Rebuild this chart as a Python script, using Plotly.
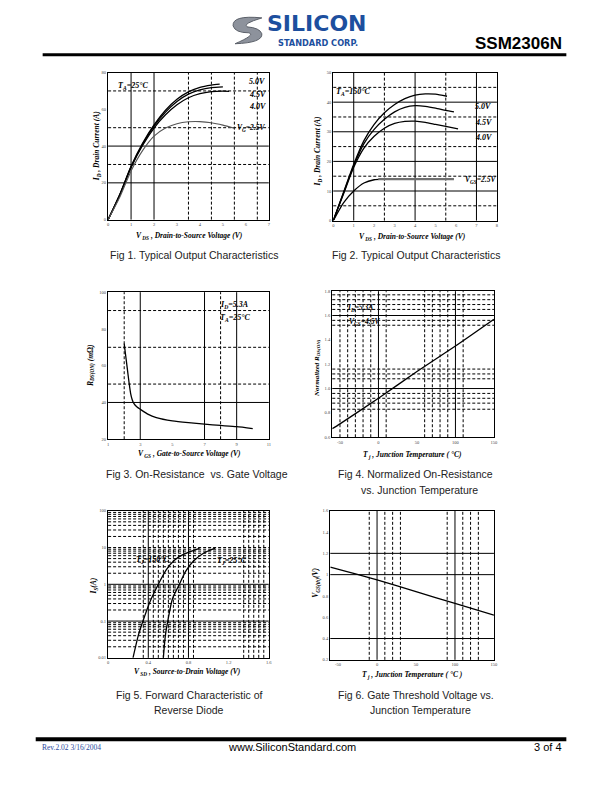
import math
import plotly.graph_objects as go

W, H = 612, 792


def px(x):
    return x / W


def py(y):
    return 1 - y / H


# ---------------- data ----------------
# Fig 1: Typical output characteristics, TA = 25 C
f1_vds_50 = [0, 0.5, 1.0, 1.5, 2.0, 2.5, 3.0, 3.5, 4.0, 4.5, 4.86]
f1_id_50 = [0, 13.5, 29.0, 41.5, 51.5, 59.5, 65.5, 69.5, 72.0, 73.2, 73.7]
f1_vds_45 = [0, 0.5, 1.0, 1.5, 2.0, 2.5, 3.0, 3.5, 4.0, 4.5, 5.0]
f1_id_45 = [0, 13.3, 28.7, 41.0, 50.8, 58.5, 64.3, 68.3, 70.6, 71.8, 72.2]
f1_vds_40 = [0, 0.5, 1.0, 1.5, 2.0, 2.5, 3.0, 3.5, 4.0, 4.5, 5.0, 5.27]
f1_id_40 = [0, 13.0, 28.3, 40.3, 49.8, 57.0, 62.5, 66.3, 68.5, 69.6, 69.9, 69.8]
f1_vds_25 = [0, 0.5, 1.0, 1.5, 2.0, 2.5, 3.0, 3.5, 4.0, 4.5, 5.0, 5.5]
f1_id_25 = [0, 12.0, 26.5, 37.5, 45.4, 49.8, 52.2, 53.2, 53.3, 52.7, 51.4, 49.7]

# Fig 2: Typical output characteristics, TA = 150 C
f2_vds_50 = [0, 0.5, 1.0, 1.5, 2.0, 2.5, 3.0, 3.5, 4.0, 4.5, 5.0, 5.56]
f2_id_50 = [0, 9.5, 19.0, 27.0, 32.5, 36.4, 39.2, 41.2, 42.4, 42.8, 42.7, 42.0]
f2_vds_45 = [0, 0.5, 1.0, 1.5, 2.0, 2.5, 3.0, 3.5, 4.0, 4.5, 5.0, 5.5, 5.9]
f2_id_45 = [0, 9.3, 18.5, 26.0, 30.8, 34.2, 36.7, 38.2, 38.8, 38.6, 38.0, 37.2, 36.7]
f2_vds_40 = [0, 0.5, 1.0, 1.5, 2.0, 2.5, 3.0, 3.5, 4.0, 4.5, 5.0, 5.5, 6.1]
f2_id_40 = [0, 9.0, 18.0, 24.5, 28.5, 31.2, 32.8, 33.5, 33.6, 33.2, 32.5, 31.8, 31.0]
f2_vds_25_rise = [0, 0.5, 1.0, 1.5, 2.0, 2.4]
f2_id_25_rise = [0, 6.0, 10.0, 12.7, 13.8, 14.0]
f2_vds_25_flat = [2.2, 3.0, 4.0, 5.0, 5.9]
f2_id_25_flat = [14.0, 14.0, 14.0, 14.0, 14.0]

# Fig 3: On-resistance vs gate voltage
f3_vgs = [2.0, 2.1, 2.2, 2.3, 2.4, 2.5, 2.6, 2.8, 3.0, 3.5, 4.0, 5.0, 6.0, 7.0, 8.0, 9.0, 10.0]
f3_rds = [72, 65, 58, 51, 45, 41.5, 39.5, 37.5, 36.3, 33.5, 31.8, 30.0, 29.0, 28.2, 27.5, 26.8, 25.8]

# Fig 4: Normalized on-resistance vs junction temperature
f4_tj = [-60, -50, 0, 50, 100, 150]
f4_rn = [0.67, 0.71, 0.92, 1.14, 1.35, 1.57]

# Fig 5: Forward characteristic of reverse diode
f5_vsd_150 = [0.248, 0.30, 0.347, 0.42, 0.50, 0.58, 0.66, 0.75, 0.91]
f5_is_150 = [0.01, 0.04, 0.1, 0.35, 1.0, 2.5, 4.5, 6.5, 9.5]
f5_vsd_25 = [0.55, 0.57, 0.594, 0.64, 0.71, 0.77, 0.85, 0.95, 1.066]
f5_is_25 = [0.01, 0.04, 0.1, 0.4, 1.0, 2.2, 4.3, 7.0, 9.6]

# Fig 6: Gate threshold voltage vs junction temperature
f6_tj = [-60, 0, 50, 100, 150]
f6_vth = [1.07, 0.95, 0.84, 0.73, 0.62]

# axis ranges and tick labels
ax_x_range = {1: [0, 7], 2: [0, 8], 3: [1, 11], 4: [-60, 150], 5: [0, 1.6], 6: [-60, 150]}
ax_y_range = {1: [0, 80], 2: [0, 50], 3: [20, 100], 4: [0.6, 1.8], 5: [-2, 2], 6: [0.2, 1.6]}
x_ticks = {1: [0, 1, 2, 3, 4, 5, 6, 7], 2: [0, 1, 2, 3, 4, 5, 6, 7, 8], 3: [1, 3, 5, 7, 9, 11],
           4: [-50, 0, 50, 100, 150], 5: [0, 0.4, 0.8, 1.2, 1.6], 6: [-50, 0, 50, 100, 150]}
y_ticks = {1: [0, 20, 40, 60, 80], 2: [0, 10, 20, 30, 40, 50], 3: [20, 40, 60, 80, 100],
           4: [0.6, 0.8, 1.0, 1.2, 1.4, 1.6, 1.8], 5: [0.01, 0.1, 1, 10, 100],
           6: [0.2, 0.4, 0.6, 0.8, 1.0, 1.2, 1.4, 1.6]}
x_ticktext = {4: ["-50", "0", "50", "100", "150"], 5: ["0", "0.4", "0.8", "1.2", "1.6"],
              6: ["-50", "0", "50", "100", "150"]}
y_ticktext = {4: ["0.6", "0.8", "1.0", "1.2", "1.4", "1.6", "1.8"], 5: ["0.01", "0.1", "1", "10", "100"],
              6: ["0.2", "0.4", "0.6", "0.8", "1", "1.2", "1.4", "1.6"]}

# grid lines (value lists)
grid_h_solid = {1: [20, 40], 2: [10, 20, 30, 40], 3: [40], 4: [1.0, 1.6], 5: [0.1, 1], 6: [0.4, 1.0, 1.2]}
grid_h_dash = {
    1: [30, 50, 70],
    2: [5, 15, 25, 35, 45],
    3: [50, 70, 90],
    4: [0.83, 0.88, 0.92, 0.96, 1.08, 1.12, 1.16, 1.52, 1.56, 1.65, 1.69, 1.73, 1.77],
    5: [m * d for d in (0.01, 0.1, 1, 10) for m in (2, 3, 4, 5, 6, 7, 8, 9)] + [10],
    6: [],
}
grid_v_solid = {1: [1, 2], 2: [1, 4, 7], 3: [3, 7, 9], 4: [0, 100], 5: [0.4, 0.8], 6: [0, 100]}
grid_v_dash = {
    1: [3.5, 4.5, 5.5, 6.5],
    2: [2.5, 5.5],
    3: [2, 8],
    4: [-50, -40, -30, -20, -10, 10, 60, 70, 80, 90, 110],
    5: [0.35, 0.45, 0.5, 0.55, 0.6, 0.65, 0.7, 0.75, 0.85, 1.35, 1.4, 1.45, 1.5, 1.55],
    6: [-10, 10, 20, 30, 90, 110, 120, 130],
}

# plot-area boxes on the page (pixels: left, right, top, bottom)
boxes = {1: (108, 270, 71, 219), 2: (335, 500, 71, 220), 3: (108, 270, 292, 440),
         4: (334, 497, 291, 438), 5: (108, 270, 512, 660), 6: (332, 497, 512, 662)}

SERIF = "Liberation Serif"
SANS = "Liberation Sans"

fig = go.Figure()


def ax_names(n):
    return ("x" if n == 1 else f"x{n}"), ("y" if n == 1 else f"y{n}")


def add_line(n, x, y, color="black", width=1.3):
    xa, ya = ax_names(n)
    fig.add_trace(go.Scatter(x=x, y=y, xaxis=xa, yaxis=ya, mode="lines",
                             line=dict(color=color, width=width, shape="spline", smoothing=0.6),
                             showlegend=False, hoverinfo="skip"))


add_line(1, f1_vds_50, f1_id_50)
add_line(1, f1_vds_45, f1_id_45)
add_line(1, f1_vds_40, f1_id_40)
add_line(1, f1_vds_25, f1_id_25, color="#555555", width=1.1)
add_line(2, f2_vds_50, f2_id_50)
add_line(2, f2_vds_45, f2_id_45)
add_line(2, f2_vds_40, f2_id_40)
add_line(2, f2_vds_25_rise, f2_id_25_rise)
add_line(2, f2_vds_25_flat, f2_id_25_flat, color="#707070", width=2.4)
add_line(3, f3_vgs, f3_rds)
add_line(4, f4_tj, f4_rn)
add_line(5, f5_vsd_150, f5_is_150)
add_line(5, f5_vsd_25, f5_is_25)
add_line(6, f6_tj, f6_vth)

layout = dict(width=W, height=H, margin=dict(l=0, r=0, t=0, b=0),
              paper_bgcolor="white", plot_bgcolor="white", showlegend=False)

for n in range(1, 7):
    l, r, t, b = boxes[n]
    xa, ya = ax_names(n)
    xkey = "xaxis" if n == 1 else f"xaxis{n}"
    ykey = "yaxis" if n == 1 else f"yaxis{n}"
    xd = dict(domain=[px(l), px(r)], anchor=ya, range=ax_x_range[n], showgrid=False, zeroline=False,
              showline=True, linecolor="black", linewidth=1.3, mirror=True, ticks="",
              tickvals=x_ticks[n], tickfont=dict(family=SERIF, size=4.5, color="#444"))
    if n in x_ticktext:
        xd["ticktext"] = x_ticktext[n]
    yd = dict(domain=[py(b), py(t)], anchor=xa, range=ax_y_range[n], showgrid=False, zeroline=False,
              showline=True, linecolor="black", linewidth=1.3, mirror=True, ticks="",
              tickvals=y_ticks[n], tickfont=dict(family=SERIF, size=4.5, color="#444"))
    if n == 5:
        yd["type"] = "log"
    if n in y_ticktext:
        yd["ticktext"] = y_ticktext[n]
    layout[xkey] = xd
    layout[ykey] = yd

shapes = []
for n in range(1, 7):
    xa, ya = ax_names(n)
    for v in grid_h_solid[n]:
        shapes.append(dict(type="line", xref=f"{xa} domain", yref=ya, x0=0, x1=1, y0=v, y1=v,
                           line=dict(color="black", width=1), layer="below"))
    for v in grid_h_dash[n]:
        shapes.append(dict(type="line", xref=f"{xa} domain", yref=ya, x0=0, x1=1, y0=v, y1=v,
                           line=dict(color="black", width=1, dash="3px,2px"), layer="below"))
    for v in grid_v_solid[n]:
        shapes.append(dict(type="line", xref=xa, yref=f"{ya} domain", x0=v, x1=v, y0=0, y1=1,
                           line=dict(color="black", width=1), layer="below"))
    for v in grid_v_dash[n]:
        shapes.append(dict(type="line", xref=xa, yref=f"{ya} domain", x0=v, x1=v, y0=0, y1=1,
                           line=dict(color="black", width=1, dash="3px,2px"), layer="below"))

# header / footer rules
shapes.append(dict(type="line", xref="paper", yref="paper", x0=px(42), x1=px(570), y0=py(53), y1=py(53),
                   line=dict(color="black", width=3)))
shapes.append(dict(type="line", xref="paper", yref="paper", x0=px(35), x1=px(570), y0=py(742), y1=py(742),
                   line=dict(color="black", width=4)))


# logo swoosh
def path_from(cmds):
    out = []
    for c in cmds:
        if isinstance(c, str):
            out.append(c)
        else:
            out.append(f"{px(c[0]):.5f},{py(c[1]):.5f}")
    return " ".join(out)


swoosh = path_from(["M", (263, 16), "Q", (233, 13), (234, 24), "Q", (236, 31), (250, 31),
                    "Q", (257, 33), (236, 42), "Q", (264, 41), (263, 32), "Q", (261, 26), (248, 25),
                    "Q", (243, 22), (263, 16), "Z"])
shapes.append(dict(type="path", xref="paper", yref="paper", path=swoosh,
                   fillcolor="#8d929c", line=dict(color="#5b6069", width=1)))
layout["shapes"] = shapes

ann = []


def text(x, y, s, size=8, family=SERIF, color="black", xanchor="center", yanchor="middle",
         xref="paper", yref="paper", angle=0):
    ann.append(dict(x=x, y=y, xref=xref, yref=yref, text=s, showarrow=False, xanchor=xanchor,
                    yanchor=yanchor, textangle=angle, borderpad=0,
                    font=dict(family=family, size=size, color=color)))


def dtext(n, x, y, s, size=8, xanchor="left"):
    xa, ya = ax_names(n)
    text(x, y, s, size=size, xref=xa, yref=ya, xanchor=xanchor)


# chart labels (data coordinates)
dtext(1, 0.4, 72.5, "<b><i>T<sub>A</sub>=25°C</i></b>")
dtext(1, 6.1, 75, "<b><i>5.0V</i></b>")
dtext(1, 6.1, 68, "<b><i>4.5V</i></b>")
dtext(1, 6.1, 61.5, "<b><i>4.0V</i></b>")
dtext(1, 5.55, 50, "<b><i>V<sub>G</sub>=2.5V</i></b>", size=7.5)

dtext(2, 0.1, 43.5, "<b><i>T<sub>A</sub>=150°C</i></b>")
dtext(2, 6.9, 38.4, "<b><i>5.0V</i></b>")
dtext(2, 6.9, 33, "<b><i>4.5V</i></b>")
dtext(2, 6.9, 28.2, "<b><i>4.0V</i></b>")
dtext(2, 6.4, 13.8, "<b><i>V<sub>GS</sub>=2.5V</i></b>", size=7.5)

dtext(3, 7.9, 93, "<b><i>I<sub>D</sub>=5.3A</i></b>")
dtext(3, 7.9, 85.8, "<b><i>T<sub>A</sub>=25°C</i></b>")

dtext(4, -42, 1.665, "<b><i>I<sub>D</sub>=5.3A</i></b>", size=7.5)
dtext(4, -40, 1.55, "<b><i>V<sub>GS</sub>=4.5V</i></b>", size=7.5)

dtext(5, 0.265, math.log10(4.5), "<b><i>T<sub>J</sub>=150°C</i></b>")
dtext(5, 1.07, math.log10(4.3), "<b><i>T<sub>J</sub>=25°C</i></b>")

# axis titles
text(px(190), py(235), "<b><i>V<sub> DS</sub> , Drain-to-Source Voltage (V)</i></b>", size=7.5)
text(px(97), py(145), "<b><i>I<sub>D</sub> , Drain Current (A)</i></b>", size=7.5, angle=-90)
text(px(415), py(236), "<b><i>V<sub> DS</sub> , Drain-to-Source Voltage (V)</i></b>", size=7.5)
text(px(320), py(150), "<b><i>I<sub>D</sub> , Drain Current (A)</i></b>", size=7.5, angle=-90)
text(px(190), py(455), "<b><i>V<sub> GS</sub> , Gate-to-Source Voltage (V)</i></b>", size=7.5)
text(px(91), py(366), "<b><i>R<sub>DS(ON)</sub> (m</i>Ω<i>)</i></b>", size=7.5, angle=-90)
text(px(415), py(456), "<b><i>T<sub> j</sub> , Junction Temperature ( °C)</i></b>", size=7.5)
text(px(318), py(368), "<b><i>Normalized R<sub>DS(ON)</sub></i></b>", size=7, angle=-90)
text(px(188), py(674), "<b><i>V<sub> SD</sub> , Source-to-Drain Voltage (V)</i></b>", size=7.5)
text(px(94), py(588), "<b><i>I<sub>S</sub>(A)</i></b>", size=7.5, angle=-90)
text(px(415), py(677), "<b><i>T<sub> j</sub> , Junction Temperature ( °C )</i></b>", size=7.5)
text(px(318), py(584), "<b><i>V<sub>GS(th)</sub>(V)</i></b>", size=7.5, angle=-90)

# captions
cap = dict(size=10.5, family=SANS, color="#222222")
text(px(195), py(255), "Fig 1. Typical Output Characteristics", **cap)
text(px(418), py(255), "Fig 2. Typical Output Characteristics", **cap)
text(px(198), py(475), "Fig 3. On-Resistance  vs. Gate Voltage", **cap)
text(px(418), py(475), "Fig 4. Normalized On-Resistance", **cap)
text(px(422), py(491), "vs. Junction Temperature", **cap)
text(px(190), py(697), "Fig 5. Forward Characteristic of", **cap)
text(px(190), py(712), "Reverse Diode", **cap)
text(px(418), py(697), "Fig 6. Gate Threshold Voltage vs.", **cap)
text(px(423), py(712), "Junction Temperature", **cap)

# header
text(px(319), py(35), "<b>SILICON</b>", size=22, family="DejaVu Sans", color="#1d4f9e", yanchor="bottom")
text(px(320), py(35), "<b>STANDARD CORP.</b>", size=8.2, family="DejaVu Sans", color="#1d4f9e", yanchor="top")
text(px(567), py(42), "<b>SSM2306N</b>", size=17, family=SANS, xanchor="right")

# footer
text(px(40), py(750), "Rev.2.02 3/16/2004", size=7.5, family=SERIF, color="#2b4aa0", xanchor="left")
text(px(293), py(750), "www.SiliconStandard.com", size=11, family=SANS)
text(px(567), py(750), "3 of 4", size=11, family=SANS, xanchor="right")

layout["annotations"] = ann
fig.update_layout(**layout)

# remove the page's default 8px body margin so the figure sits at the window corner
fig.write_html(
    "out.html",
    config={"displayModeBar": False},
    post_script=("document.body.style.margin='0';"
                 "document.body.style.overflow='hidden';"
                 "document.documentElement.style.overflow='hidden';"),
)
